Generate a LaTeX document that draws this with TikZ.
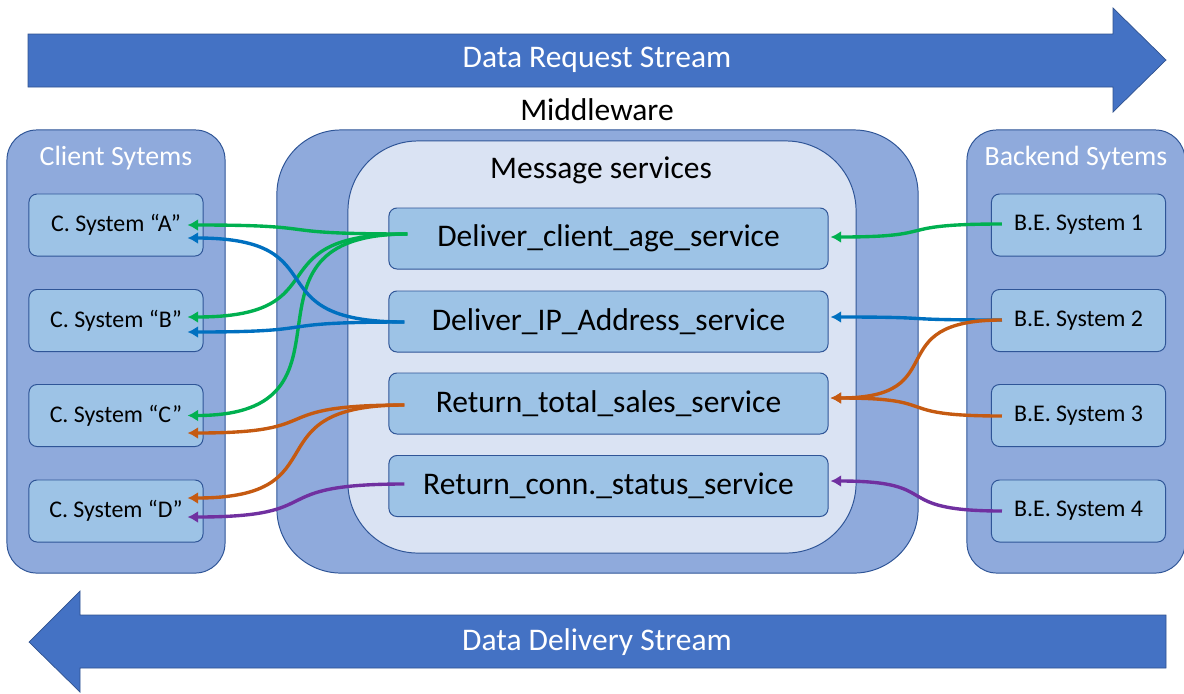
\documentclass[tikz,border=0pt]{standalone}
\usepackage{fontspec}
\setmainfont{Carlito}
\usetikzlibrary{calc}
\usetikzlibrary{positioning}
\usetikzlibrary{arrows.meta}
\definecolor{streamblue}{HTML}{4472C4}
\definecolor{streamline}{HTML}{2F528F}
\definecolor{grpfill}{HTML}{8FAADC}
\definecolor{grpline}{HTML}{2F5597}
\definecolor{msgfill}{HTML}{DAE3F3}
\definecolor{boxfill}{HTML}{9DC3E6}
\definecolor{green}{HTML}{00B050}
\definecolor{blue}{HTML}{0070C0}
\definecolor{orange}{HTML}{C55A11}
\definecolor{purple}{HTML}{7030A0}

\begin{document}
\begin{tikzpicture}[
		x=0.025cm, y=-0.025cm,
		big/.style = {font=\fontsize{22.4}{26}\selectfont},
		grp/.style = {rectangle, draw=grpline, fill=grpfill, line width=0.7pt, minimum width=5.45cm, minimum height=11.075cm, rounded corners=0.75cm},
		ttl/.style = {text=white, font=\fontsize{19.8}{24}\selectfont},
		sys/.style = {rectangle, draw=grpline, fill=boxfill, line width=0.7pt, minimum width=4.35cm, minimum height=1.55cm, rounded corners=0.2cm, font=\fontsize{17}{20}\selectfont},
		svc/.style = {rectangle, draw=grpline, fill=boxfill, line width=0.7pt, minimum width=10.975cm, minimum height=1.525cm, rounded corners=0.2cm, big},
		r/.style = {-{Latex[length=7.5pt,width=8.5pt]}, line width=2.4pt, looseness=1.7},
		]
		\useasboundingbox (0,0) rectangle (1184,693);
		
		% === === Streams === ===
		\filldraw[fill=streamblue, draw=streamline, line width=0.5pt]
			(28,34) -- (1113,34) -- (1113,8) -- (1166,60) -- (1113,112) -- (1113,87) -- (28,87) -- cycle;
		\node[big, text=white]	(req)	at	(597,60)	{Data Request Stream};
		\filldraw[fill=streamblue, draw=streamline, line width=0.5pt]
			(1166,615) -- (80,615) -- (80,591) -- (29,642) -- (80,692) -- (80,668) -- (1166,668) -- cycle;
		\node[big, text=white]	(dlv)	at	(597,642)	{Data Delivery Stream};
		
		% === === Panels === ===
		\node[big]	(mw)	at	(597,110)	{Middleware};
		\node[grp]	(cli)	at	(116,351.5)	{};
		\node[ttl]	(clit)	at	(116,158)	{Client Sytems};
		\node[grp]	(be)	at	(1076,351.5)	{};
		\node[ttl]	(bet)	at	(1076,158)	{Backend Sytems};
		\node[grp, minimum width=16.025cm, rounded corners=1.6cm]	(mwp)	at	(597.5,351.5)	{};
		\node[grp, fill=msgfill, minimum width=12.7cm, minimum height=10.3cm, rounded corners=1.75cm]	(msg)	at	(602,347)	{};
		\node[big]	(msgt)	at	(601,170)	{Message services};
		
		% === === Nodes === ===
		\node[svc]	(svc1)	at	(608.5,238.5)	{Deliver\_client\_age\_service};
		\node[svc]	(svc2)	at	(608.5,321.5)	{Deliver\_IP\_Address\_service};
		\node[svc]	(svc3)	at	(608.5,403.5)	{Return\_total\_sales\_service};
		\node[svc]	(svc4)	at	(608.5,486)	{Return\_conn.\_status\_service};
		
		\node[sys]	(ca)	at	(116,225)	{C. System “A”};
		\node[sys]	(cb)	at	(116,320.5)	{C. System “B”};
		\node[sys]	(cc)	at	(116,415.5)	{C. System “C”};
		\node[sys]	(cd)	at	(116,511)	{C. System “D”};
		
		\node[sys]	(be1)	at	(1078.5,225)	{B.E. System 1};
		\node[sys]	(be2)	at	(1078.5,320.5)	{B.E. System 2};
		\node[sys]	(be3)	at	(1078.5,415.5)	{B.E. System 3};
		\node[sys]	(be4)	at	(1078.5,511)	{B.E. System 4};
		
		% === === Lines === ===
		\draw[r, green]		($(svc1.west)+(19,-4.5)$)	to[out=180, in=0]	($(ca.east)+(-16,0)$);
		\draw[r, green]		($(svc1.west)+(19,-4.5)$)	to[out=180, in=0]	($(cb.east)+(-16,-3.5)$);
		\draw[r, green]		($(svc1.west)+(19,-4.5)$)	to[out=180, in=0]	($(cc.east)+(-16,0)$);
		\draw[r, blue]		($(svc2.west)+(16,0.5)$)	to[out=180, in=0]	($(ca.east)+(-16,13)$);
		\draw[r, blue]		($(svc2.west)+(16,0.5)$)	to[out=180, in=0]	($(cb.east)+(-16,11.5)$);
		\draw[r, orange]	($(svc3.west)+(16,1.5)$)	to[out=180, in=0]	($(cc.east)+(-16,17.5)$);
		\draw[r, orange]	($(svc3.west)+(16,1.5)$)	to[out=180, in=0]	($(cd.east)+(-16,-13)$);
		\draw[r, purple]	($(svc4.west)+(16,-2)$)		to[out=180, in=0]	($(cd.east)+(-16,6)$);
		
		\draw[r, green]		($(be1.west)+(11,-1)$)		to[out=180, in=0]	($(svc1.east)+(2,-1.5)$);
		\draw[r, blue]		($(be2.west)+(11,-0.5)$)	to[out=180, in=0]	($(svc2.east)+(2,-4.5)$);
		\draw[r, orange]	($(be2.west)+(11,-0.5)$)	to[out=180, in=0]	($(svc3.east)+(2,-5.5)$);
		\draw[r, orange]	($(be3.west)+(11,0.5)$)		to[out=180, in=0]	($(svc3.east)+(2,-5.5)$);
		\draw[r, purple]	($(be4.west)+(11,0)$)		to[out=180, in=0]	($(svc4.east)+(2,-5)$);
		
	\end{tikzpicture}
\end{document}
